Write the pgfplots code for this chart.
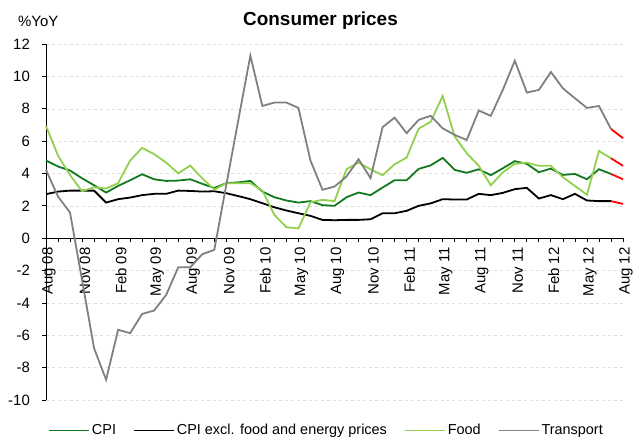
\documentclass[border=0pt]{standalone}
\usepackage{fontspec}
\setmainfont{Liberation Sans}
\usepackage{pgfplots}
\pgfplotsset{compat=1.18}
\usepackage{pgfplotstable}

\definecolor{cpigreen}{RGB}{20,120,30}
\definecolor{foodgreen}{RGB}{146,208,80}
\definecolor{transgray}{RGB}{128,128,128}

% month index (0 = Aug 08), CPI, core, food, transport
\pgfplotstableread{
m cpi core food trans
0 4.80 2.72 6.94 4.22
1 4.43 2.88 5.10 2.57
2 4.18 2.94 3.90 1.58
3 3.70 2.94 2.90 -2.60
4 3.27 2.94 3.15 -6.80
5 2.82 2.20 3.07 -8.75
6 3.23 2.41 3.40 -5.66
7 3.58 2.51 4.80 -5.87
8 3.95 2.66 5.58 -4.68
9 3.64 2.74 5.19 -4.47
10 3.54 2.74 4.67 -3.50
11 3.56 2.94 4.00 -1.80
12 3.64 2.92 4.49 -1.80
13 3.36 2.88 3.70 -0.99
14 3.10 2.90 3.00 -0.72
15 3.40 2.78 3.40 3.30
16 3.45 2.60 3.40 7.30
17 3.54 2.41 3.40 11.28
18 2.88 2.16 2.94 8.17
19 2.53 1.91 1.44 8.38
20 2.33 1.71 0.68 8.38
21 2.20 1.54 0.60 8.05
22 2.29 1.38 2.22 4.80
23 2.04 1.13 2.37 2.99
24 2.00 1.11 2.29 3.19
25 2.53 1.13 4.26 3.81
26 2.82 1.13 4.67 4.88
27 2.66 1.17 4.26 3.71
28 3.13 1.54 3.89 6.86
29 3.58 1.54 4.57 7.45
30 3.58 1.69 4.98 6.49
31 4.28 2.00 6.77 7.31
32 4.50 2.15 7.19 7.56
33 4.96 2.41 8.79 6.79
34 4.22 2.39 6.28 6.38
35 4.04 2.39 5.25 6.07
36 4.26 2.74 4.47 7.89
37 3.89 2.66 3.27 7.56
38 4.32 2.80 4.06 9.16
39 4.76 3.03 4.59 10.97
40 4.59 3.11 4.67 9.00
41 4.08 2.45 4.47 9.16
42 4.30 2.66 4.47 10.27
43 3.91 2.41 3.77 9.26
44 3.97 2.74 3.23 8.65
45 3.64 2.33 2.68 8.05
46 4.26 2.29 5.39 8.17
47 3.97 2.29 4.94 6.75
}\datatbl

% last month, drawn in red
\pgfplotstableread{
m cpi core food trans
47 3.97 2.29 4.94 6.75
48 3.64 2.12 4.47 6.18
}\fcsttbl

\begin{document}
\begin{tikzpicture}
\fontsize{15}{18}\selectfont
\begin{axis}[
  scale only axis,
  width=577bp, height=356bp,
  clip=false,
  xmin=0, xmax=48, ymin=-10, ymax=12,
  axis x line*=middle, axis y line*=left,
  hide obscured x ticks=false, hide obscured y ticks=false,
  tick align=outside,
  major tick length=4bp, minor tick length=4bp,
  xtick={0,3,...,48},
  minor xtick={0,1,...,48},
  xticklabels={Aug 08,Nov 08,Feb 09,May 09,Aug 09,Nov 09,Feb 10,May 10,Aug 10,Nov 10,Feb 11,May 11,Aug 11,Nov 11,Feb 12,May 12,Aug 12},
  x tick label style={rotate=90, anchor=east, yshift=-3bp},
  ytick={-10,-8,...,12},
  y tick label style={xshift=-7bp},
  /pgf/number format/assume math mode=true,
  ymajorgrids,
  grid style={gray!25, dashed},
  axis line style={black, line width=0.8bp},
  tick style={black, line width=0.8bp},
  ticklabel style={font=\fontsize{15}{18}\selectfont},
  legend columns=4,
  legend style={at={(0.5,0)}, anchor=north, xshift=-8bp, yshift=-20bp,
    draw=none, fill=none, font=\fontsize{14.5}{17}\selectfont,
    /tikz/every even column/.append style={column sep=15bp},
    nodes={inner sep=2bp}},
  legend image code/.code={\draw[#1] (0bp,0bp) -- (40bp,0bp);},
  every axis plot/.append style={line width=1.8bp},
]
\addplot[cpigreen] table[x=m, y=cpi] {\datatbl};
\addlegendentry{CPI}
\addplot[black] table[x=m, y=core] {\datatbl};
\addlegendentry{CPI excl. food and energy prices}
\addplot[foodgreen] table[x=m, y=food] {\datatbl};
\addlegendentry{Food}
\addplot[transgray] table[x=m, y=trans] {\datatbl};
\addlegendentry{Transport}
\addplot[red, forget plot] table[x=m, y=cpi] {\fcsttbl};
\addplot[red, forget plot] table[x=m, y=core] {\fcsttbl};
\addplot[red, forget plot] table[x=m, y=food] {\fcsttbl};
\addplot[red, forget plot] table[x=m, y=trans] {\fcsttbl};
\coordinate (bl) at (rel axis cs:0,0);
\coordinate (tr) at (rel axis cs:1,1);
\node[anchor=base west, inner sep=0pt, xshift=-28bp, yshift=17bp] at (rel axis cs:0,1) {\%YoY};
\node[anchor=base, inner sep=0pt, xshift=-14bp, yshift=18bp, font=\fontsize{19}{22}\selectfont\bfseries] at (rel axis cs:0.5,1) {Consumer prices};
\end{axis}
\pgfresetboundingbox
\useasboundingbox ([shift={(-46bp,-41bp)}]bl) rectangle ([shift={(11bp,44bp)}]tr);
\end{tikzpicture}
\end{document}
